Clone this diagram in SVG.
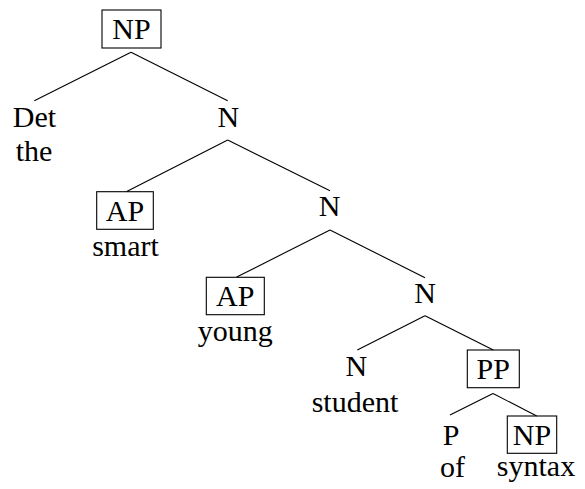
<svg xmlns="http://www.w3.org/2000/svg" width="585" height="489" viewBox="0 0 585 489">
<style>
text{font-family:'Liberation Serif','Times New Roman',serif;font-size:30px;fill:#000;text-anchor:middle}
.box{fill:none;stroke:#000;stroke-width:1.1}
.edges line{stroke:#000;stroke-width:1.1}
</style>
<rect width="585" height="489" fill="#fff"/>
<g class="edges" id="connectors">
<line x1="131" y1="52.3" x2="34.3" y2="100.7"/>
<line x1="131" y1="52.3" x2="227.7" y2="100.7"/>
<line x1="227.7" y1="140" x2="126.7" y2="191.5"/>
<line x1="227.7" y1="140" x2="330" y2="190.7"/>
<line x1="330" y1="230" x2="236.7" y2="277"/>
<line x1="330" y1="230" x2="425" y2="277.7"/>
<line x1="425" y1="315.7" x2="357.3" y2="350"/>
<line x1="425" y1="315.7" x2="493.3" y2="350"/>
<line x1="493" y1="393.5" x2="450" y2="415"/>
<line x1="493" y1="393.5" x2="536.7" y2="416"/>
</g>
<g id="np-root">
<rect class="box" x="102" y="10" width="59" height="38"/>
<text x="131.5" y="39">NP</text>
</g>
<g id="det">
<text x="34.5" y="127.3">Det</text>
<text x="34" y="161">the</text>
</g>
<g id="n1"><text x="228.3" y="127.3">N</text></g>
<g id="ap1">
<rect class="box" x="96.7" y="191.7" width="56.6" height="37.6"/>
<text x="125" y="220.7">AP</text>
<text x="125.5" y="256">smart</text>
</g>
<g id="n2"><text x="329.5" y="215.7">N</text></g>
<g id="ap2">
<rect class="box" x="206.3" y="277.3" width="58" height="37.4"/>
<text x="235.3" y="306">AP</text>
<text x="235.3" y="341.3">young</text>
</g>
<g id="n3"><text x="425" y="303">N</text></g>
<g id="n4">
<text x="356.3" y="375.7">N</text>
<text x="355" y="412">student</text>
</g>
<g id="pp">
<rect class="box" x="467.3" y="350" width="52" height="37.7"/>
<text x="493.3" y="379">PP</text>
</g>
<g id="p">
<text x="451" y="444.5">P</text>
<text x="452.5" y="476.5">of</text>
</g>
<g id="np2">
<rect class="box" x="507.3" y="416" width="49.4" height="37.3"/>
<text x="532" y="445">NP</text>
<text x="536" y="476">syntax</text>
</g>
</svg>
